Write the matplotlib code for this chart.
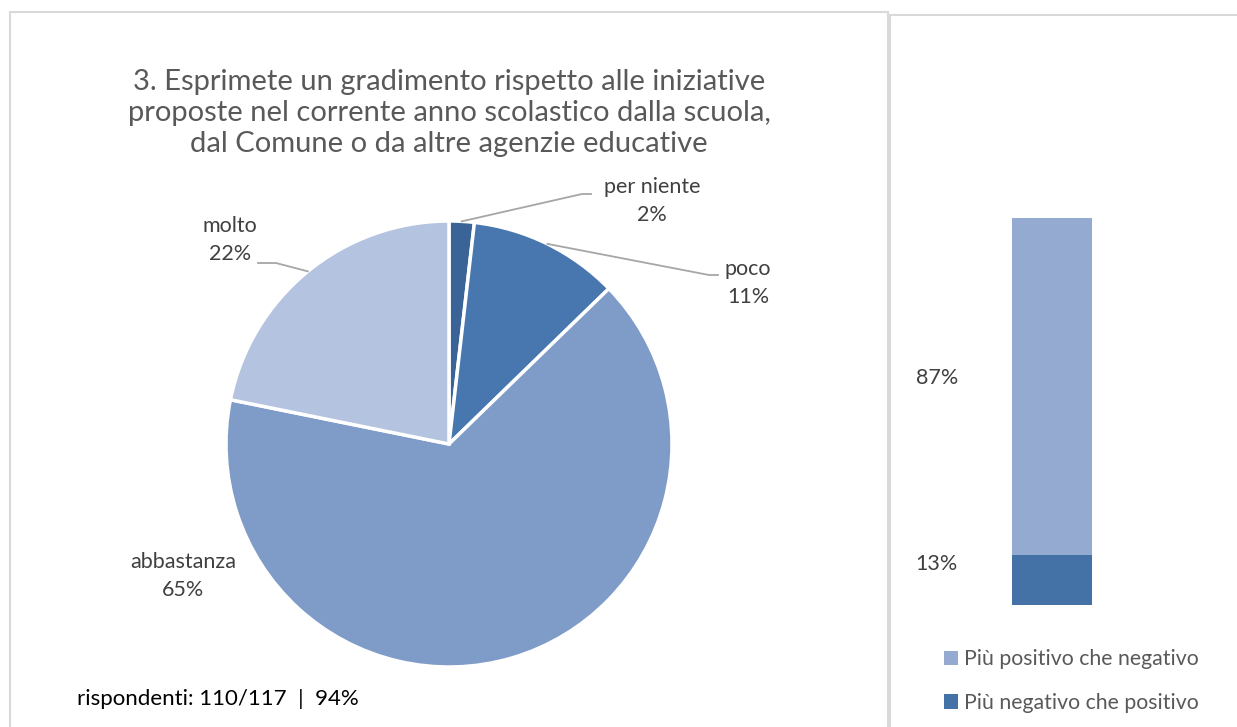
import numpy as np
import matplotlib.pyplot as plt
from matplotlib.patches import Rectangle

plt.rcParams['font.family'] = ['Lato', 'DejaVu Sans']

# pie data (counts out of 110 respondents)
categories = ['per niente', 'poco', 'abbastanza', 'molto']
counts = [2, 12, 72, 24]
pie_colors = ['#3A6497', '#4877B0', '#7F9CC8', '#B4C3DF']

# bar data
bar_labels = ['Più negativo che positivo', 'Più positivo che negativo']
bar_values = [13, 87]
bar_colors = ['#4472A7', '#95AAD1']

title = ('3. Esprimete un gradimento rispetto alle iniziative\n'
         'proposte nel corrente anno scolastico dalla scuola,\n'
         'dal Comune o da altre agenzie educative')
note = 'rispondenti: 110/117  |  94%'

W, H = 1237, 727
fig = plt.figure(figsize=(W / 100, H / 100), dpi=100)

# full-figure axes in pixel units (y up)
ax = fig.add_axes([0, 0, 1, 1])


def py(y):
    return H - y


# panel borders
ax.add_patch(Rectangle((10, py(740)), 878, 728, fill=False, ec='#D9D9D9', lw=1.5))
ax.add_patch(Rectangle((890, py(740)), 360, 725, fill=False, ec='#D9D9D9', lw=1.5))

cx, cy, r = 449, py(444), 223
total = sum(counts)
wedges, _ = ax.pie(counts, colors=pie_colors, startangle=90, counterclock=False,
                   center=(cx, cy), radius=r, frame=True,
                   wedgeprops=dict(edgecolor='white', linewidth=2.5))
ax.set_xlim(0, W)
ax.set_ylim(0, H)
ax.set_aspect('equal')
ax.axis('off')

pcts = [f'{round(c / total * 100)}%' for c in counts]
label_pos = [(652, 201), (748, 283), (183, 576), (230, 240)]
elbows = [[(582, 194), (591, 194)], [(709, 275), (718, 275)], None,
          [(276, 263), (258, 263)]]

for w, name, pct, (lx, ly), elb in zip(wedges, categories, pcts, label_pos, elbows):
    ax.text(lx, py(ly), f'{name}\n{pct}', ha='center', va='center',
            fontsize=15.5, color='#404040', linespacing=1.55)
    if elb is not None:
        a = np.deg2rad((w.theta1 + w.theta2) / 2)
        sx, sy = cx + r * np.cos(a), cy + r * np.sin(a)
        xs = [sx] + [e[0] for e in elb]
        ys = [sy] + [py(e[1]) for e in elb]
        ax.plot(xs, ys, color='#A6A6A6', lw=1.3)

ax.text(449, py(113), title, ha='center', va='center', fontsize=21,
        color='#595959', linespacing=1.26)
ax.text(77, py(699), note, ha='left', va='center', fontsize=16, color='#000000')

# stacked bar
bx = fig.add_axes([1012 / W, (H - 605) / H, 80 / W, 387 / H])
bottom = 0
for lab, v, c in zip(bar_labels, bar_values, bar_colors):
    bx.bar(0, v, bottom=bottom, width=1, color=c, label=lab)
    bottom += v
bx.set_xlim(-0.5, 0.5)
bx.set_ylim(0, 100)
bx.axis('off')
bx.text(-1.44, 10.6, f'{bar_values[0]}%', ha='center', va='center',
        fontsize=15.5, color='#404040')
bx.text(-1.44, 58.7, f'{bar_values[1]}%',
        ha='center', va='center', fontsize=15.5, color='#404040')

handles, labels = bx.get_legend_handles_labels()
fig.legend(handles[::-1], labels[::-1], loc='upper left',
           bbox_to_anchor=(925 / W, 1 - 630 / H), frameon=False,
           fontsize=15.3, labelcolor='#595959', handlelength=0.65,
           handleheight=0.65, handletextpad=0.3, labelspacing=1.12)

fig.savefig('out.png', dpi=100)
